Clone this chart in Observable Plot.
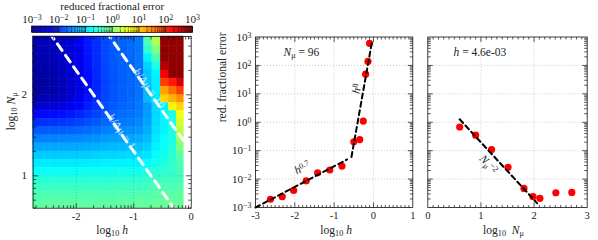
<!DOCTYPE html>
<html>
<head>
<meta charset="utf-8">
<script src="https://cdn.jsdelivr.net/npm/d3@7"></script>
<script src="https://cdn.jsdelivr.net/npm/@observablehq/plot@0.6"></script>
<style>
  html, body { margin: 0; padding: 0; background: #fff; }
  #chart { position: relative; width: 598px; height: 240px; overflow: hidden; background: #fff; }
  #chart > svg { position: absolute; left: 0; top: 0; background: transparent !important; }
</style>
</head>
<body>
<div id="chart"></div>
<script>
// ---------------- data ----------------
// colour scale / tick labels
const errTickValues = [1e-3, 1e-2, 1e-1, 1e0, 1e1, 1e2, 1e3];
const colorbarTitle = "reduced fractional error";
const heatXTicks = [-2, -1, 0];
const heatYTicks = [1, 2];
const midXTicks = [-3, -2, -1, 0, 1];
const rightXTicks = [0, 1, 2, 3];

// heat map: log10 h column centres, log10 N_mu row centres (top -> bottom)
const heatHExtent = [-2.75, -0.13];
const heatNExtent = [0.6, 2.72];
const heatLogH = [-2.68, -2.53, -2.38, -2.23, -2.08, -1.93, -1.78, -1.63, -1.48, -1.33, -1.18, -1.03, -0.89, -0.75, -0.60, -0.46, -0.31, -0.19];
const heatLogN = [2.65, 2.55, 2.45, 2.35, 2.25, 2.15, 2.05, 1.95, 1.85, 1.75, 1.65, 1.55, 1.45, 1.35, 1.25, 1.15, 1.05, 0.95, 0.85, 0.75, 0.65];
// log10 of reduced fractional error, one row per heatLogN entry
const heatLogErr = [
  [-2.75,-2.72,-2.68,-2.60,-2.48,-2.33,-2.12,-1.98,-1.82,-1.73,-1.68,-1.63,-1.56,-0.30, 0.30, 2.90, 2.90, 2.90],
  [-2.78,-2.75,-2.71,-2.63,-2.50,-2.35,-2.13,-1.99,-1.82,-1.73,-1.68,-1.63,-1.56,-0.50, 0.00, 2.90, 2.90, 2.90],
  [-2.80,-2.77,-2.73,-2.65,-2.52,-2.36,-2.14,-1.99,-1.82,-1.73,-1.68,-1.63,-1.56,-0.80,-0.30, 2.90, 2.90, 2.90],
  [-2.84,-2.80,-2.76,-2.68,-2.55,-2.38,-2.16,-2.00,-1.83,-1.74,-1.68,-1.64,-1.57,-1.00,-0.60, 2.70, 2.90, 2.90],
  [-2.88,-2.84,-2.80,-2.72,-2.58,-2.40,-2.18,-2.02,-1.84,-1.75,-1.69,-1.65,-1.58,-1.10,-0.80, 2.30, 2.90, 2.90],
  [-2.92,-2.88,-2.83,-2.74,-2.60,-2.43,-2.20,-2.04,-1.85,-1.76,-1.70,-1.65,-1.58,-1.10,-0.85, 1.90, 2.10, 2.50],
  [-2.90,-2.86,-2.81,-2.72,-2.58,-2.42,-2.19,-2.03,-1.85,-1.76,-1.70,-1.65,-1.58,-1.15,-0.85, 1.30, 1.60, 1.90],
  [-2.80,-2.76,-2.72,-2.64,-2.52,-2.37,-2.15,-2.01,-1.84,-1.75,-1.69,-1.64,-1.57,-1.15,-0.85, 1.00, 1.20, 1.40],
  [-2.58,-2.55,-2.52,-2.46,-2.37,-2.24,-2.08,-1.95,-1.79,-1.72,-1.67,-1.62,-1.55,-1.36,-0.98,-0.80, 0.80, 1.00],
  [-2.23,-2.21,-2.20,-2.17,-2.12,-2.04,-1.94,-1.85,-1.73,-1.67,-1.62,-1.58,-1.52,-1.33,-0.97,-0.80,-0.60, 0.70],
  [-1.98,-1.97,-1.96,-1.94,-1.91,-1.86,-1.79,-1.73,-1.64,-1.58,-1.54,-1.51,-1.46,-1.29,-0.95,-0.80,-0.60, 0.50],
  [-1.72,-1.71,-1.71,-1.70,-1.68,-1.65,-1.61,-1.57,-1.50,-1.46,-1.43,-1.40,-1.36,-1.23,-0.92,-0.80,-0.60, 0.35],
  [-1.49,-1.48,-1.48,-1.47,-1.46,-1.44,-1.42,-1.39,-1.34,-1.32,-1.29,-1.27,-1.24,-1.14,-0.88,-0.75,-0.60, 0.20],
  [-1.27,-1.27,-1.27,-1.27,-1.26,-1.25,-1.23,-1.21,-1.18,-1.16,-1.15,-1.13,-1.11,-1.03,-0.81,-0.70,-0.55, 0.00],
  [-1.06,-1.06,-1.06,-1.06,-1.05,-1.05,-1.04,-1.02,-1.00,-0.99,-0.98,-0.97,-0.95,-0.90,-0.73,-0.65,-0.50,-0.20],
  [-0.87,-0.87,-0.87,-0.87,-0.87,-0.86,-0.85,-0.85,-0.83,-0.82,-0.82,-0.81,-0.80,-0.76,-0.63,-0.58,-0.45,-0.30],
  [-0.70,-0.70,-0.70,-0.70,-0.70,-0.69,-0.69,-0.68,-0.67,-0.67,-0.66,-0.66,-0.65,-0.62,-0.52,-0.50,-0.45,-0.35],
  [-0.53,-0.53,-0.53,-0.53,-0.53,-0.53,-0.53,-0.53,-0.52,-0.52,-0.52,-0.52,-0.50,-0.47,-0.40,-0.40,-0.38,-0.35],
  [-0.40,-0.40,-0.40,-0.40,-0.40,-0.40,-0.40,-0.40,-0.40,-0.38,-0.38,-0.38,-0.38,-0.36,-0.30,-0.30,-0.30,-0.28],
  [-0.30,-0.30,-0.30,-0.30,-0.30,-0.30,-0.30,-0.30,-0.30,-0.30,-0.28,-0.28,-0.28,-0.27,-0.22,-0.22,-0.22,-0.20],
  [-0.20,-0.20,-0.20,-0.20,-0.20,-0.20,-0.20,-0.20,-0.20,-0.20,-0.20,-0.20,-0.18,-0.17,-0.14,-0.14,-0.14,-0.13]
];
// h / Δμ guide lines, Δμ = 2 / N_mu
const ratioValues = [1, 10];
const muRange = 2;

// middle panel: N_mu = 96
const midN = 96;
const midLogH = [-2.62, -2.32, -2.03, -1.71, -1.42, -1.11, -0.80, -0.50, -0.35, -0.26, -0.20, -0.14, -0.10];
const midErr  = [0.00195, 0.0024, 0.0040, 0.0087, 0.0166, 0.0209, 0.0288, 0.204, 0.245, 1.10, 49, 138, 600];
const fitLowLogH = [-3.0, -0.67];
const fitLowErr  = [1.0e-3, 0.049];
const fitHighLogH = [-0.56, -0.04];
const fitHighErr  = [0.060, 650];
const fitLowLabel = "*h*^{0.7}";
const fitHighLabel = "*h*^{8}";

// right panel: h = 4.6e-3
const rightH = 4.6e-3;
const rightLogN = [0.60, 0.90, 1.20, 1.51, 1.81, 1.98, 2.11, 2.41, 2.71];
const rightErr  = [0.68, 0.35, 0.11, 0.026, 0.0047, 0.0024, 0.0021, 0.0033, 0.0034];
const fitNLogN = [0.60, 2.06];
const fitNErr  = [1.27, 0.0014];
const fitNLabel = "*N*_{μ}^{−2}";

// ---------------- helpers ----------------
const SERIF = "'Liberation Serif', 'DejaVu Serif', serif";
const INK = "#222";
const jetScale = d3.scaleLinear()
  .domain([0, 0.125, 0.375, 0.625, 0.875, 1])
  .range(["#00008f", "#0000ff", "#00ffff", "#ffff00", "#ff0000", "#800000"])
  .clamp(true);
const jet = t => jetScale(t);
const colorOpts = () => ({type: "log", domain: [1e-3, 1e3], interpolate: jet, clamp: true});

const expLabel = d => `10^{${String(Math.round(Math.log10(d))).replace("-", "−")}}`;
const plain = d => String(d);

const tickSym = len => ({draw(ctx) { ctx.moveTo(0, 0); ctx.lineTo(0, -len); }});
const TICK = {stroke: "#111", strokeWidth: 0.7, fill: "none"};
function ticksX(vals, len) {
  const s = tickSym(len);
  return [
    Plot.dot(vals, {x: d => d, frameAnchor: "bottom", symbol: s, ...TICK}),
    Plot.dot(vals, {x: d => d, frameAnchor: "top", symbol: s, rotate: 180, ...TICK})
  ];
}
function ticksY(vals, len) {
  const s = tickSym(len);
  return [
    Plot.dot(vals, {y: d => d, frameAnchor: "left", symbol: s, rotate: 90, ...TICK}),
    Plot.dot(vals, {y: d => d, frameAnchor: "right", symbol: s, rotate: -90, ...TICK})
  ];
}
const logMinor = (d0, d1, lo, hi) => d3.range(d0, d1).flatMap(d => d3.range(2, 10).map(k => d + Math.log10(k))).filter(v => v > lo && v < hi);
const logMinorRaw = (d0, d1) => d3.range(d0, d1).flatMap(d => d3.range(2, 10).map(k => k * 10 ** d));
const linMinor = (a, b) => d3.range(Math.round(a * 10), Math.round(b * 10) + 1).filter(i => i % 10 !== 0).map(i => i / 10);

const GRID = {stroke: "#aaa", strokeOpacity: 1, strokeWidth: 0.6, strokeDasharray: "1,2"};
const FIT = {stroke: "#000", strokeWidth: 2, strokeDasharray: "5,3.5"};
const BASE = {width: 598, height: 240, style: {fontFamily: SERIF, color: INK, background: "transparent"}};

function richify(root) {
  const NS = "http://www.w3.org/2000/svg";
  root.querySelectorAll("text").forEach(t => {
    const s = t.textContent;
    if (!/[\^_]\{|\*/.test(s)) return;
    while (t.firstChild) t.removeChild(t.firstChild);
    const re = /(\^\{[^}]*\}|_\{[^}]*\}|\*[^*]*\*)/g;
    let last = 0, m;
    const add = (str, kind) => {
      if (!str) return;
      const ts = document.createElementNS(NS, "tspan");
      ts.textContent = str;
      if (kind === "sup") { ts.setAttribute("baseline-shift", "35%"); ts.setAttribute("font-size", "72%"); }
      if (kind === "sub") { ts.setAttribute("baseline-shift", "-22%"); ts.setAttribute("font-size", "72%"); }
      if (kind === "it") ts.setAttribute("font-style", "italic");
      t.appendChild(ts);
    };
    while ((m = re.exec(s))) {
      add(s.slice(last, m.index), "");
      const tok = m[0];
      if (tok[0] === "^") add(tok.slice(2, -1), "sup");
      else if (tok[0] === "_") add(tok.slice(2, -1), "sub");
      else add(tok.slice(1, -1), "it");
      last = m.index + tok.length;
    }
    add(s.slice(last), "");
  });
}

// ---------------- derived tables ----------------
const colEdges = heatLogH.map((c, j, a) => [j === 0 ? heatHExtent[0] : (a[j - 1] + c) / 2, j === a.length - 1 ? heatHExtent[1] : (c + a[j + 1]) / 2]);
const rowEdges = heatLogN.map((c, i, a) => [i === a.length - 1 ? heatNExtent[0] : (c + a[i + 1]) / 2, i === 0 ? heatNExtent[1] : (a[i - 1] + c) / 2]);
const heatCells = [];
heatLogN.forEach((n, i) => heatLogH.forEach((h, j) => {
  heatCells.push({x1: colEdges[j][0], x2: colEdges[j][1], y1: rowEdges[i][0], y2: rowEdges[i][1], err: 10 ** heatLogErr[i][j]});
}));
const ratioPts = ratioValues.flatMap(r => heatHExtent.map(h => ({r, h, n: Math.log10(muRange * r) - h})));

const midPts = midLogH.map((h, i) => ({h, err: midErr[i]}));
const rightPts = rightLogN.map((n, i) => ({n, err: rightErr[i]}));
const fitLow = fitLowLogH.map((h, i) => ({h, err: fitLowErr[i]}));
const fitHigh = fitHighLogH.map((h, i) => ({h, err: fitHighErr[i]}));
const fitN = fitNLogN.map((n, i) => ({n, err: fitNErr[i]}));
const mid = (pts, k) => ({[k]: (pts[0][k] + pts[1][k]) / 2, err: Math.sqrt(pts[0].err * pts[1].err)});

const cbSteps = d3.range(-3, 3, 0.025).map(v => ({a: 10 ** v, b: 10 ** (v + 0.025), c: 10 ** (v + 0.0125)}));

// ---------------- colour bar ----------------
const cbPlot = Plot.plot({
  ...BASE,
  marginLeft: 31.5, marginRight: 406, marginTop: 26, marginBottom: 208,
  x: {type: "log", domain: [1e-3, 1e3], label: null},
  y: {domain: [0, 1], axis: null},
  color: colorOpts(),
  marks: [
    Plot.rect(cbSteps, {x1: "a", x2: "b", y1: 0, y2: 1, fill: "c", stroke: "c", strokeWidth: 0.5}),
    Plot.ruleX(logMinorRaw(-3, 3), {y1: 0, y2: 0.4, stroke: "#111", strokeWidth: 0.6}),
    Plot.ruleX(logMinorRaw(-3, 3), {y1: 0.6, y2: 1, stroke: "#111", strokeWidth: 0.6}),
    Plot.ruleX(errTickValues, {y1: 0, y2: 1, stroke: "#111", strokeWidth: 0.8}),
    Plot.frame({stroke: "#111", strokeWidth: 0.8}),
    Plot.axisX({anchor: "top", ticks: errTickValues, tickSize: 0, tickPadding: 4, tickFormat: expLabel, fontSize: 11, label: null}),
    Plot.text([colorbarTitle], {text: d => d, frameAnchor: "top", dy: -20, lineAnchor: "middle", fontSize: 11})
  ]
});

// ---------------- heat map ----------------
const heatPlot = Plot.plot({
  ...BASE,
  marginLeft: 32.6, marginRight: 407.3, marginTop: 36, marginBottom: 32.3,
  x: {domain: [-2.75, 0], label: null},
  y: {domain: [0.6, 2.72], label: null},
  color: colorOpts(),
  marks: [
    Plot.rect(heatCells, {x1: "x1", x2: "x2", y1: "y1", y2: "y2", fill: "err", stroke: "err", strokeWidth: 0.5}),
    Plot.gridX([-2, -1], {stroke: "#000", strokeOpacity: 0.3, strokeWidth: 0.7, strokeDasharray: "1,2"}),
    Plot.gridY([1, 2], {stroke: "#000", strokeOpacity: 0.3, strokeWidth: 0.7, strokeDasharray: "1,2"}),
    Plot.line(ratioPts, {x: "h", y: "n", z: "r", stroke: "#fff", strokeWidth: 3, strokeDasharray: "8,6", clip: true}),
    Plot.text([`*h*/Δμ = ${ratioValues[1]}`], {text: d => d, frameAnchor: "top-left", dx: 106.4, dy: 30.5, rotate: 54.6, fontSize: 11.5, fill: "#dfe8ff", fillOpacity: 0.9}),
    Plot.text([`*h*/Δμ = ${ratioValues[0]}`], {text: d => d, frameAnchor: "top-left", dx: 80.4, dy: 76, rotate: 54.6, fontSize: 11.5, fill: "#dfe8ff", fillOpacity: 0.9}),
    Plot.frame({stroke: "#111", strokeWidth: 0.8}),
    ...ticksX(logMinor(-3, 0, -2.75, 0), 3), ...ticksX([-2, -1], 5),
    ...ticksY(logMinor(0, 3, 0.6, 2.72), 3), ...ticksY(heatYTicks, 5),
    Plot.axisX({ticks: heatXTicks, tickSize: 0, tickPadding: 4, tickFormat: plain, fontSize: 10.5, label: null}),
    Plot.axisY({ticks: heatYTicks, tickSize: 0, tickPadding: 6, tickFormat: plain, fontSize: 11, label: null}),
    Plot.text(["log_{10} *h*"], {text: d => d, frameAnchor: "bottom", dy: 22, lineAnchor: "middle", fontSize: 11.5}),
    Plot.text(["log_{10} *N*_{μ}"], {text: d => d, frameAnchor: "left", dx: -22, dy: 8, rotate: -90, lineAnchor: "middle", fontSize: 11.5})
  ]
});

// ---------------- middle panel ----------------
const midPlot = Plot.plot({
  ...BASE,
  marginLeft: 255, marginRight: 185.7, marginTop: 36.5, marginBottom: 33,
  x: {domain: [-3, 1], label: null},
  y: {type: "log", domain: [1e-3, 1e3], label: null},
  marks: [
    Plot.gridX([-2, -1, 0], GRID),
    Plot.gridY(errTickValues.slice(1, -1), GRID),
    Plot.dot(midPts, {x: "h", y: "err", r: 3.6, fill: "#ff0000"}),
    Plot.line(fitLow, {x: "h", y: "err", ...FIT}),
    Plot.line(fitHigh, {x: "h", y: "err", ...FIT}),
    Plot.text([mid(fitLow, "h")], {x: "h", y: "err", text: () => fitLowLabel, dx: 1, dy: -16, rotate: -27, fontSize: 11.5, fill: INK}),
    Plot.text([mid(fitHigh, "h")], {x: "h", y: "err", text: () => fitHighLabel, dx: -5, dy: -11, rotate: -80, fontSize: 11.5, fill: INK}),
    Plot.text([`*N*_{μ} = ${midN}`], {text: d => d, frameAnchor: "top-left", dx: 28, dy: 15.5, textAnchor: "start", lineAnchor: "middle", fontSize: 11.5, fill: INK}),
    Plot.frame({stroke: "#111", strokeWidth: 0.8}),
    ...ticksX(linMinor(-3, 1), 2.5), ...ticksX([-2, -1, 0], 5),
    ...ticksY(logMinorRaw(-3, 3), 3), ...ticksY(errTickValues.slice(1, -1), 5),
    Plot.axisX({ticks: midXTicks, tickSize: 0, tickPadding: 4, tickFormat: plain, fontSize: 10.5, label: null}),
    Plot.axisY({ticks: errTickValues, tickSize: 0, tickPadding: 4, tickFormat: expLabel, fontSize: 11, label: null}),
    Plot.text(["log_{10} *h*"], {text: d => d, frameAnchor: "bottom", dx: 2, dy: 23, lineAnchor: "middle", fontSize: 11.5}),
    Plot.text(["red. fractional error"], {text: d => d, frameAnchor: "left", dx: -33, rotate: -90, lineAnchor: "middle", fontSize: 11.5})
  ]
});

// ---------------- right panel ----------------
const rightPlot = Plot.plot({
  ...BASE,
  marginLeft: 427.3, marginRight: 11.3, marginTop: 36.5, marginBottom: 33,
  x: {domain: [0, 3], label: null},
  y: {type: "log", domain: [1e-3, 1e3], axis: null, label: null},
  marks: [
    Plot.gridX([1, 2], GRID),
    Plot.gridY(errTickValues.slice(1, -1), GRID),
    Plot.dot(rightPts, {x: "n", y: "err", r: 3.6, fill: "#ff0000"}),
    Plot.line(fitN, {x: "n", y: "err", ...FIT}),
    Plot.text([mid(fitN, "n")], {x: "n", y: "err", text: () => fitNLabel, dx: -10, dy: 3, rotate: 47, fontSize: 11.5, fill: INK}),
    Plot.text([`*h* = ${rightH.toExponential(1).replace(/e([+-])(\d)$/, "e$10$2")}`], {text: d => d, frameAnchor: "top-left", dx: 25.7, dy: 15.5, textAnchor: "start", lineAnchor: "middle", fontSize: 11.5, fill: INK}),
    Plot.frame({stroke: "#111", strokeWidth: 0.8}),
    ...ticksX(linMinor(0, 3), 2.5), ...ticksX([1, 2], 5),
    ...ticksY(logMinorRaw(-3, 3), 3), ...ticksY(errTickValues.slice(1, -1), 5),
    Plot.axisX({ticks: rightXTicks, tickSize: 0, tickPadding: 4, tickFormat: plain, fontSize: 10.5, label: null}),
    Plot.text(["log_{10}  *N*_{μ}"], {text: d => d, frameAnchor: "bottom", dx: -4, dy: 23, lineAnchor: "middle", fontSize: 11.5})
  ]
});

const chart = document.getElementById("chart");
[heatPlot, cbPlot, midPlot, rightPlot].forEach(p => { chart.appendChild(p); richify(p); });
</script>
</body>
</html>
